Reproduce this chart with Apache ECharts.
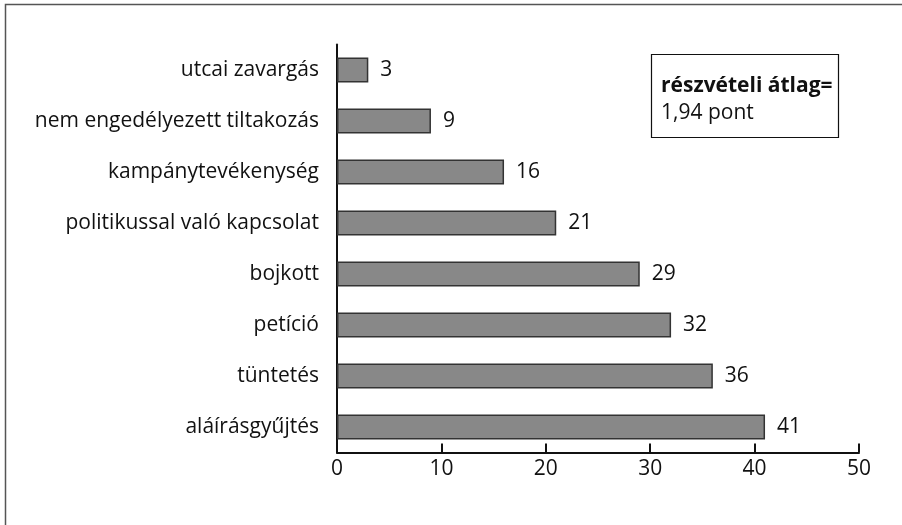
<!DOCTYPE html>
<html>
<head>
<meta charset="utf-8">
<script src="https://cdn.jsdelivr.net/npm/echarts@6/dist/echarts.min.js"></script>
<style>html,body{margin:0;padding:0;background:#fff}#c{width:902px;height:525px}</style>
</head>
<body>
<div id="c"></div>
<script>
const categories = ["utcai zavargás","nem engedélyezett tiltakozás","kampánytevékenység","politikussal való kapcsolat","bojkott","petíció","tüntetés","aláírásgyűjtés"];
const values = [3, 9, 16, 21, 29, 32, 36, 41];
const xTicks = [0, 10, 20, 30, 40, 50];
const noteTitle = "részvételi átlag=";
const noteValue = "1,94 pont";

const FONT = "'Open Sans'";
const FS = 21;
const chart = echarts.init(document.getElementById('c'), null, {renderer: 'canvas'});
chart.setOption({
  animation: false,
  backgroundColor: '#fff',
  grid: {left: 337, right: 43, top: 44.5, bottom: 72.5, containLabel: false},
  xAxis: {
    type: 'value', min: xTicks[0], max: xTicks[xTicks.length - 1], interval: 10,
    axisLine: {show: true, lineStyle: {color: '#111', width: 2}},
    axisTick: {show: true, inside: true, length: 9, lineStyle: {color: '#111', width: 2}},
    splitLine: {show: false},
    axisLabel: {color: '#111', fontFamily: FONT, fontSize: FS, margin: 6}
  },
  yAxis: {
    type: 'category', data: categories, inverse: true,
    axisLine: {show: true, lineStyle: {color: '#111', width: 2}},
    axisTick: {show: false},
    axisLabel: {color: '#111', fontFamily: FONT, fontSize: FS, margin: 18}
  },
  series: [{
    type: 'bar', data: values, barWidth: 25,
    itemStyle: {color: '#888888', borderColor: '#333', borderWidth: 1.5},
    label: {show: true, position: 'right', distance: 12, color: '#111', fontFamily: FONT, fontSize: FS}
  }],
  graphic: [
    {type: 'rect', shape: {x: 5.5, y: 4.5, width: 1000, height: 1000}, style: {fill: 'none', stroke: '#555', lineWidth: 1.5}, silent: true},
    {type: 'rect', shape: {x: 651.5, y: 54.5, width: 187, height: 83}, style: {fill: '#fff', stroke: '#111', lineWidth: 1.2}},
    {type: 'text', left: 661, top: 76, style: {text: noteTitle, font: 'bold ' + FS + 'px ' + FONT, fill: '#111'}},
    {type: 'text', left: 661, top: 103, style: {text: noteValue, font: FS + 'px ' + FONT, fill: '#111'}}
  ]
});
</script>
</body>
</html>
